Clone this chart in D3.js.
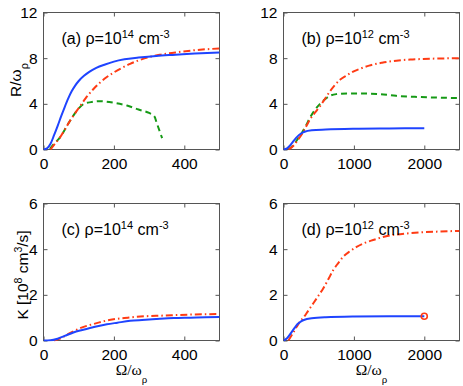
<!DOCTYPE html>
<html>
<head>
<meta charset="utf-8">
<script src="https://cdn.jsdelivr.net/npm/d3@7"></script>
<style>
  body { margin: 0; background: #fff; }
  text { font-family: "Liberation Sans", Arial, sans-serif; fill: #000; }
</style>
</head>
<body>
<div id="chart"></div>
<script>
// data, [x, y] pairs
const aBlue = [[0,0],[10,0.1],[20,0.5],[30,1.25],[40,2.05],[50,2.9],[60,3.7],[70,4.45],[80,5.1],[90,5.6],[100,6.0],[115,6.45],[130,6.8],[150,7.15],[175,7.45],[200,7.7],[230,7.9],[270,8.05],[320,8.2],[375,8.3],[430,8.4],[500,8.5]];
const aRed = [[20,0],[30,0.4],[47,1.06],[75,2.5],[104,3.8],[120,4.5],[142,5.3],[160,5.85],[180,6.35],[200,6.75],[220,7.1],[246,7.5],[289,8.0],[330,8.3],[375,8.5],[430,8.7],[500,8.85]];
const aGreen = [[18,0.05],[30,0.5],[47,1.06],[75,2.5],[100,3.6],[115,4.0],[135,4.15],[161,4.23],[199,4.1],[237,3.85],[270,3.5],[300,3.2],[315,2.9],[322,2.3],[330,1.6],[337,1.0]];

const bBlue = [[0,0],[50,0.1],[100,0.4],[150,0.8],[200,1.15],[250,1.4],[300,1.55],[400,1.68],[600,1.75],[1000,1.82],[1500,1.85],[2000,1.87]];
const bRed = [[70,0],[141,0.33],[200,0.8],[260,1.34],[320,2.0],[377,2.64],[450,3.25],[519,3.8],[590,4.45],[660,5.1],[730,5.65],[802,6.1],[900,6.5],[990,6.83],[1100,7.1],[1216,7.35],[1400,7.6],[1604,7.78],[1800,7.88],[1980,7.93],[2200,7.97],[2500,8.0]];
const bGreen = [[70,0],[141,0.4],[200,0.9],[260,1.45],[320,2.1],[377,2.8],[450,3.5],[519,4.0],[590,4.4],[660,4.7],[750,4.85],[900,4.9],[1100,4.9],[1368,4.85],[1600,4.7],[1933,4.6],[2500,4.5]];

const cBlue = [[0,0],[20,0.01],[40,0.08],[60,0.2],[85,0.35],[110,0.46],[132,0.55],[160,0.65],[180,0.71],[210,0.78],[246,0.86],[280,0.9],[322,0.94],[370,0.98],[417,1.0],[460,1.02],[500,1.03]];
const cRed = [[30,0],[50,0.1],[66,0.25],[85,0.4],[104,0.54],[125,0.65],[151,0.76],[175,0.86],[199,0.93],[240,1.0],[275,1.05],[320,1.08],[370,1.11],[430,1.14],[500,1.16]];

const dBlue = [[0,0],[50,0.1],[100,0.3],[150,0.52],[200,0.72],[250,0.84],[300,0.91],[400,0.97],[600,1.02],[1000,1.05],[1500,1.06],[2000,1.06]];
const dRed = [[70,0],[130,0.3],[189,0.61],[240,0.85],[283,1.0],[350,1.3],[424,1.63],[500,1.98],[566,2.29],[640,2.7],[707,3.09],[780,3.4],[849,3.67],[940,3.9],[1038,4.1],[1150,4.27],[1273,4.4],[1400,4.52],[1556,4.62],[1750,4.69],[1980,4.74],[2200,4.77],[2500,4.8]];
const dMarker = [[2000,1.06]];

const xTicksLow = [0, 200, 400];
const xTicksHigh = [0, 1000, 2000];
const yTicksR = [0, 4, 8, 12];
const yTicksK = [0, 2, 4, 6];

const blue = "#1f44ff", red = "#ff3b14", green = "#169a16";

const svg = d3.select("#chart").append("svg")
    .attr("width", 463)
    .attr("height", 386);

const panels = [
  {id: "a", left: 43.5, top: 12.5, xMax: 500, xt: xTicksLow, yMax: 12, yt: yTicksR, exp: "14", lines: [[aGreen, "g"], [aRed, "r"], [aBlue, "b"]]},
  {id: "b", left: 283.5, top: 12.5, xMax: 2500, xt: xTicksHigh, yMax: 12, yt: yTicksR, exp: "12", lines: [[bGreen, "g"], [bRed, "r"], [bBlue, "b"]]},
  {id: "c", left: 43.5, top: 203.5, xMax: 500, xt: xTicksLow, yMax: 6, yt: yTicksK, exp: "14", lines: [[cRed, "r"], [cBlue, "b"]]},
  {id: "d", left: 283.5, top: 203.5, xMax: 2500, xt: xTicksHigh, yMax: 6, yt: yTicksK, exp: "12", lines: [[dRed, "r"], [dBlue, "b"]], marker: dMarker}
];
const pw = 176, ph = 137;

const styles = {
  b: {color: blue, dash: null},
  r: {color: red, dash: "7,3,1.5,3"},
  g: {color: green, dash: "6,4"}
};
const fmt = d3.format("d");

panels.forEach(p => {
  const g = svg.append("g").attr("transform", `translate(${p.left},${p.top})`);
  const x = d3.scaleLinear().domain([0, p.xMax]).range([0, pw]);
  const y = d3.scaleLinear().domain([0, p.yMax]).range([ph, 0]);

  g.append("clipPath").attr("id", "clip" + p.id)
    .append("rect").attr("width", pw).attr("height", ph + 2).attr("y", -1);

  // axes with inward ticks on all sides
  g.append("g").attr("transform", `translate(0,${ph})`)
    .call(d3.axisBottom(x).tickValues(p.xt).tickFormat(fmt).tickSizeInner(-4).tickSizeOuter(0).tickPadding(8.5));
  g.append("g").call(d3.axisTop(x).tickValues(p.xt).tickSizeInner(-4).tickSizeOuter(0).tickFormat(""));
  g.append("g").call(d3.axisLeft(y).tickValues(p.yt).tickFormat(fmt).tickSizeInner(-4).tickSizeOuter(0).tickPadding(6));
  g.append("g").attr("transform", `translate(${pw},0)`)
    .call(d3.axisRight(y).tickValues(p.yt).tickSizeInner(-4).tickSizeOuter(0).tickFormat(""));
  g.selectAll(".domain").remove();
  g.selectAll(".tick line").attr("stroke", "#555");
  g.selectAll(".tick text").style("font-size", "15.5px").style("font-family", "Liberation Sans, Arial, sans-serif");

  g.append("rect").attr("width", pw).attr("height", ph)
    .attr("fill", "none").attr("stroke", "#555").attr("stroke-width", 1);

  const line = d3.line().x(d => x(d[0])).y(d => y(d[1])).curve(d3.curveMonotoneX);
  p.lines.forEach(([data, k]) => {
    g.append("path").datum(data)
      .attr("clip-path", `url(#clip${p.id})`)
      .attr("d", line)
      .attr("fill", "none")
      .attr("stroke", styles[k].color)
      .attr("stroke-width", 2)
      .attr("stroke-dasharray", styles[k].dash);
  });

  if (p.marker) {
    g.selectAll(".mk").data(p.marker).join("circle")
      .attr("cx", d => x(d[0])).attr("cy", d => y(d[1])).attr("r", 3)
      .attr("fill", "none").attr("stroke", red).attr("stroke-width", 1.6);
  }

  // panel annotation
  const t = g.append("text").attr("x", 18).attr("y", 31).style("font-size", "16px");
  t.append("tspan").text(`(${p.id}) ρ=10`);
  t.append("tspan").attr("dy", -6).style("font-size", "11px").text(p.exp);
  t.append("tspan").attr("dy", 6).text(" cm");
  t.append("tspan").attr("dy", -6).style("font-size", "11px").text("-3");
});

// y labels
const ylR = svg.append("text").attr("transform", "translate(21,80) rotate(-90)")
  .attr("text-anchor", "middle").style("font-size", "15.5px");
ylR.append("tspan").text("R/ω");
ylR.append("tspan").attr("dy", 7).style("font-size", "11px").text("ρ");

const ylK = svg.append("text").attr("transform", "translate(28,275) rotate(-90)")
  .attr("text-anchor", "middle").style("font-size", "15.5px");
ylK.append("tspan").text("K [10");
ylK.append("tspan").attr("dy", -6).style("font-size", "10.5px").text("8");
ylK.append("tspan").attr("dy", 6).text(" cm");
ylK.append("tspan").attr("dy", -6).style("font-size", "10.5px").text("3");
ylK.append("tspan").attr("dy", 6).text("/s]");

// x labels
[131.5, 371.5].forEach(cx => {
  const t = svg.append("text").attr("x", cx).attr("y", 375)
    .attr("text-anchor", "middle").style("font-size", "15.5px")
    .style("font-family", "Liberation Serif, Times New Roman, serif");
  t.append("tspan").text("Ω/ω");
  t.append("tspan").attr("dy", 8).style("font-size", "11px").text("ρ");
});
</script>
</body>
</html>
